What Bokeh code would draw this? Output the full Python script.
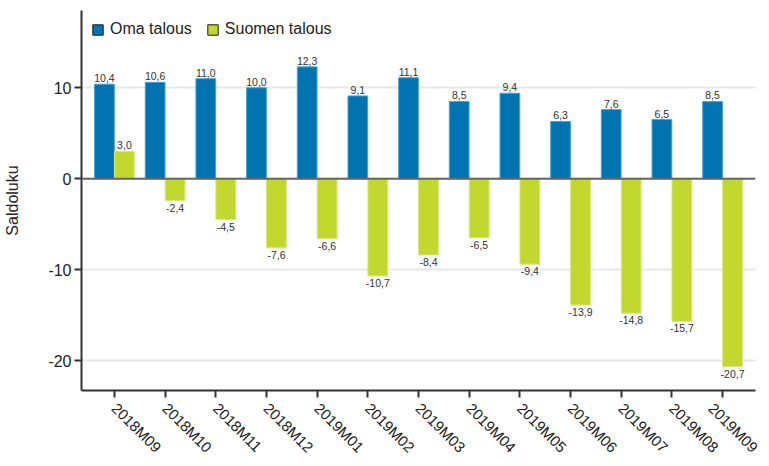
from bokeh.plotting import figure
from bokeh.models import ColumnDataSource, FixedTicker, Span, Legend, LegendItem, Range1d
from bokeh.core.properties import value
from bokeh.embed import file_html
from bokeh.resources import INLINE
import math

categories = ["2018M09", "2018M10", "2018M11", "2018M12", "2019M01", "2019M02", "2019M03",
              "2019M04", "2019M05", "2019M06", "2019M07", "2019M08", "2019M09"]
oma_talous = [10.4, 10.6, 11.0, 10.0, 12.3, 9.1, 11.1, 8.5, 9.4, 6.3, 7.6, 6.5, 8.5]
suomen_talous = [3.0, -2.4, -4.5, -7.6, -6.6, -10.7, -8.4, -6.5, -9.4, -13.9, -14.8, -15.7, -20.7]
y_ticks = [-20, -10, 0, 10]

BLUE = "#0073b0"
GREEN = "#c3d82e"
FONT = "Liberation Sans"

idx = list(range(len(categories)))
fmt = lambda v: f"{v:.1f}".replace(".", ",")

src_o = ColumnDataSource(dict(x=[i - 0.197 for i in idx], top=oma_talous,
                              lab=[fmt(v) for v in oma_talous]))
src_s = ColumnDataSource(dict(x=[i + 0.197 for i in idx], top=suomen_talous,
                              lab=[fmt(v) for v in suomen_talous]))

p = figure(width=761, height=466, output_backend="svg", toolbar_location=None,
           x_range=Range1d(-0.65, len(categories) - 1 + 0.65),
           y_range=Range1d(-23.3, 18.5),
           min_border_left=81, min_border_top=10, min_border_right=6, min_border_bottom=76)
p.outline_line_color = None
p.xgrid.grid_line_color = None
p.ygrid.grid_line_color = "#e8e8e8"
p.ygrid.grid_line_width = 2

r_o = p.vbar(x="x", top="top", bottom=0, width=0.39, source=src_o,
             fill_color=BLUE, line_color="#4da3d3", line_width=1)
r_s = p.vbar(x="x", top="top", bottom=0, width=0.39, source=src_s,
             fill_color=GREEN, line_color="#d8e87a", line_width=1)

p.add_layout(Span(location=0, dimension="width", line_color="#666666", line_width=2))

# data labels
pos_o = ColumnDataSource(dict(x=src_o.data["x"], y=oma_talous, lab=src_o.data["lab"]))
p.text(x="x", y="y", text="lab", source=pos_o, text_align="center", text_baseline="bottom",
       y_offset=-2, text_font=value(FONT), text_font_size="10.5px", text_color="#333333")
sp = [v for v in suomen_talous]
ys_pos = ColumnDataSource(dict(x=[x for x, v in zip(src_s.data["x"], sp) if v >= 0],
                               y=[v for v in sp if v >= 0],
                               lab=[fmt(v) for v in sp if v >= 0]))
ys_neg = ColumnDataSource(dict(x=[x for x, v in zip(src_s.data["x"], sp) if v < 0],
                               y=[v for v in sp if v < 0],
                               lab=[fmt(v) for v in sp if v < 0]))
p.text(x="x", y="y", text="lab", source=ys_pos, text_align="center", text_baseline="bottom",
       y_offset=-2, text_font=value(FONT), text_font_size="10.5px", text_color="#333333")
p.text(x="x", y="y", text="lab", source=ys_neg, text_align="center", text_baseline="top",
       y_offset=3, text_font=value(FONT), text_font_size="10.5px", text_color="#333333")

# legend-only glyphs with dark outline
l_o = p.vbar(x=[float("nan")], top=[float("nan")], width=0.3, fill_color=BLUE, line_color="#1a1a1a")
l_s = p.vbar(x=[float("nan")], top=[float("nan")], width=0.3, fill_color=GREEN, line_color="#1a1a1a")
legend = Legend(items=[LegendItem(label="Oma talous", renderers=[l_o]),
                       LegendItem(label="Suomen talous", renderers=[l_s])],
                location="top_left", orientation="horizontal",
                border_line_color=None, background_fill_alpha=0,
                glyph_width=13, glyph_height=13, label_standoff=6, spacing=14,
                margin=10, padding=8, label_text_font=FONT, label_text_font_size="16px",
                label_text_color="#222222")
p.add_layout(legend)

# axes
p.xaxis.ticker = FixedTicker(ticks=idx)
p.xaxis.major_label_overrides = {i: c for i, c in enumerate(categories)}
p.xaxis.major_label_orientation = -math.pi / 4
p.xaxis.minor_tick_line_color = None
p.yaxis.ticker = FixedTicker(ticks=y_ticks)
p.yaxis.major_label_overrides = {t: str(t) for t in y_ticks}
p.yaxis.minor_tick_line_color = None
for ax in (p.xaxis[0], p.yaxis[0]):
    ax.axis_line_color = "#333333"
    ax.axis_line_width = 2
    ax.major_tick_line_color = "#333333"
    ax.major_tick_line_width = 2
    ax.major_tick_out = 7
    ax.major_tick_in = 0
    ax.major_label_text_font = FONT
    ax.major_label_text_color = "#222222"
p.xaxis.major_label_text_font_size = "15px"
p.xaxis.major_label_standoff = 8
p.yaxis.major_label_text_font_size = "16px"
p.yaxis.major_label_standoff = 3
p.yaxis.axis_label = "Saldoluku"
p.yaxis.axis_label_text_font = FONT
p.yaxis.axis_label_text_font_size = "16px"
p.yaxis.axis_label_text_font_style = "normal"
p.yaxis.axis_label_text_color = "#222222"
p.yaxis.axis_label_standoff = 24

open("out.html", "w").write(file_html(p, INLINE))
